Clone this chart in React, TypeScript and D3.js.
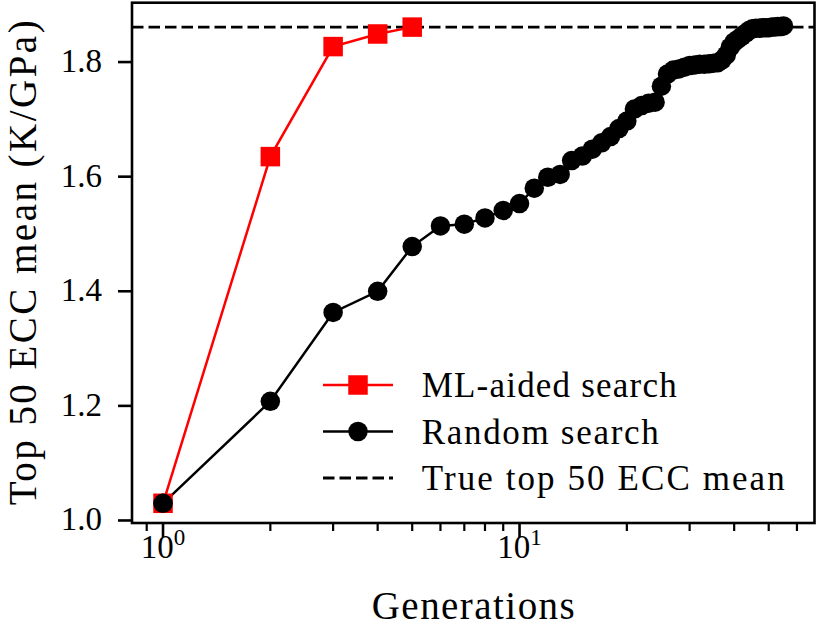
import React from 'react';
import * as d3 from 'd3';

// generations and top-50 mean ECC for each search strategy
const mlGenerations = [1, 2, 3, 4, 5];
const mlValues = [1.03, 1.635, 1.827, 1.849, 1.861];

const randomGenerations = d3.range(1, 56);
const randomValues = [
  1.03, 1.208, 1.363, 1.4, 1.478, 1.514, 1.517, 1.528, 1.541, 1.553,
  1.58, 1.599, 1.604, 1.628, 1.636, 1.648, 1.659, 1.67, 1.684, 1.697,
  1.718, 1.724, 1.728, 1.73, 1.758, 1.779, 1.786, 1.788, 1.791, 1.794,
  1.795, 1.796, 1.796, 1.797, 1.798, 1.799, 1.804, 1.812, 1.826, 1.835,
  1.84, 1.845, 1.85, 1.855, 1.858, 1.859, 1.859, 1.86, 1.86, 1.86,
  1.861, 1.861, 1.862, 1.862, 1.863,
];

const trueMean = 1.861;

const yTicks = [1.0, 1.2, 1.4, 1.6, 1.8];
const xMajorTicks = [1, 10];
const xMinorTicks = [0.9, 2, 3, 4, 5, 6, 7, 8, 9, 20, 30, 40, 50, 60];

const legendItems = ['ML-aided search', 'Random search', 'True top 50 ECC mean'];
const legendWidths = [255, 237, 363];

const W = 821;
const H = 633;
const font = '"Liberation Serif", "Times New Roman", serif';

export default function App() {
  const left = 132;
  const right = 814.5;
  const top = 2.7;
  const bottom = 523;

  // log axis padded by 5% of the data span on both sides
  const span = Math.log10(d3.max(randomGenerations) as number);
  const x = d3
    .scaleLog()
    .domain([Math.pow(10, -0.05 * span), Math.pow(10, 1.05 * span)])
    .range([left, right]);
  const y = d3.scaleLinear().domain([0.9956, 1.9036]).range([bottom, top]);

  const line = d3
    .line<[number, number]>()
    .x((d) => x(d[0]))
    .y((d) => y(d[1]));

  const mlPts: [number, number][] = mlGenerations.map((g, i) => [g, mlValues[i]]);
  const rndPts: [number, number][] = randomGenerations.map((g, i) => [g, randomValues[i]]);

  const lw = 2.5;
  const ms = 19.5;

  return (
    <svg
      width={W}
      height={H}
      style={{ position: 'absolute', left: 0, top: 0, background: '#fff' }}
      fontFamily={font}
    >
      {/* true mean reference */}
      <line
        x1={left}
        x2={right}
        y1={y(trueMean)}
        y2={y(trueMean)}
        stroke="#000"
        strokeWidth={2.8}
        strokeDasharray="11.5,5"
      />

      {/* random search */}
      <path d={line(rndPts) || ''} fill="none" stroke="#000" strokeWidth={lw} />
      {rndPts.map((d, i) => (
        <circle key={'r' + i} cx={x(d[0])} cy={y(d[1])} r={ms / 2} fill="#000" />
      ))}

      {/* ML-aided search */}
      <path d={line(mlPts) || ''} fill="none" stroke="#ff0000" strokeWidth={lw} />
      {mlPts.map((d, i) => (
        <rect
          key={'m' + i}
          x={x(d[0]) - ms / 2}
          y={y(d[1]) - ms / 2}
          width={ms}
          height={ms}
          fill="#ff0000"
        />
      ))}
      {/* first random point sits on top of the first ML point */}
      <circle cx={x(rndPts[0][0])} cy={y(rndPts[0][1])} r={ms / 2} fill="#000" />

      {/* axes frame */}
      <rect
        x={left}
        y={top}
        width={right - left}
        height={bottom - top}
        fill="none"
        stroke="#000"
        strokeWidth={2.6}
      />

      {/* y ticks */}
      {yTicks.map((t) => (
        <g key={'y' + t}>
          <line x1={left - 14} x2={left} y1={y(t)} y2={y(t)} stroke="#000" strokeWidth={2.6} />
          <text x={left - 30} y={y(t) + 10} fontSize={33} textAnchor="end">
            {t.toFixed(1)}
          </text>
        </g>
      ))}

      {/* x ticks */}
      {xMinorTicks.map((t) => (
        <line
          key={'xm' + t}
          x1={x(t)}
          x2={x(t)}
          y1={bottom}
          y2={bottom + 8}
          stroke="#000"
          strokeWidth={2.2}
        />
      ))}
      {xMajorTicks.map((t) => (
        <g key={'x' + t}>
          <line x1={x(t)} x2={x(t)} y1={bottom} y2={bottom + 14} stroke="#000" strokeWidth={2.6} />
          <text x={x(t)} y={bottom + 35} fontSize={33} textAnchor="middle">
            10
            <tspan fontSize={23} dy={-13}>
              {Math.round(Math.log10(t))}
            </tspan>
          </text>
        </g>
      ))}

      {/* axis labels */}
      <text
        x={(left + right) / 2}
        y={619}
        fontSize={39}
        textAnchor="middle"
        textLength={203}
        lengthAdjust="spacing"
      >
        Generations
      </text>
      <text
        transform={`translate(36,${(top + bottom) / 2}) rotate(-90)`}
        fontSize={39}
        textAnchor="middle"
        textLength={485}
        lengthAdjust="spacing"
      >
        Top 50 ECC mean (K/GPa)
      </text>

      {/* legend */}
      {legendItems.map((label, i) => {
        const ly = 385 + i * 46.5;
        const lx0 = 323;
        const lx1 = 393;
        const mid = (lx0 + lx1) / 2;
        return (
          <g key={label}>
            {i === 0 && (
              <>
                <line x1={lx0} x2={lx1} y1={ly} y2={ly} stroke="#ff0000" strokeWidth={lw} />
                <rect x={mid - ms / 2} y={ly - ms / 2} width={ms} height={ms} fill="#ff0000" />
              </>
            )}
            {i === 1 && (
              <>
                <line x1={lx0} x2={lx1} y1={ly} y2={ly} stroke="#000" strokeWidth={lw} />
                <circle cx={mid} cy={ly} r={ms / 2} fill="#000" />
              </>
            )}
            {i === 2 && (
              <line
                x1={lx0}
                x2={lx1}
                y1={ly}
                y2={ly}
                stroke="#000"
                strokeWidth={2.8}
                strokeDasharray="11.5,5"
              />
            )}
            <text
              x={421.7}
              y={ly + 12}
              fontSize={35}
              textLength={legendWidths[i]}
              lengthAdjust="spacing"
            >
              {label}
            </text>
          </g>
        );
      })}
    </svg>
  );
}
